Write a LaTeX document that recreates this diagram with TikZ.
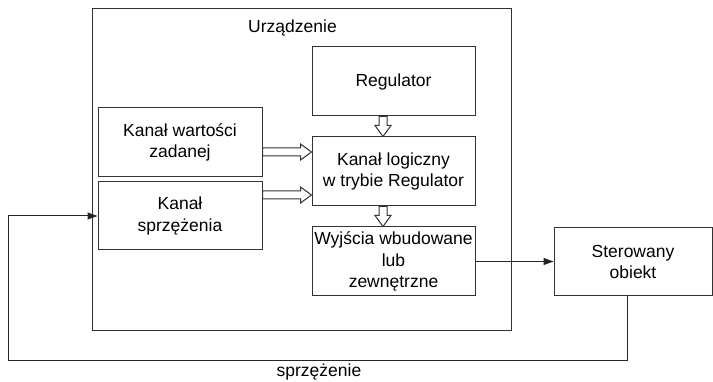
\documentclass[tikz,border=0pt]{standalone}
\usepackage{fontspec}
\setmainfont{Liberation Sans}
\usetikzlibrary{calc,arrows.meta}
\begin{document}
\begin{tikzpicture}[x=1pt,y=-1pt,
    txt/.style={inner sep=0pt,align=center,font=\fontsize{17.5}{21.5}\selectfont},
    box/.style={txt,draw=black!80,line width=1pt},
    conn/.style={draw=black!85,line width=1pt,-{Triangle[length=10pt,width=7pt]}},
    hollow/.style={draw=black!80,line width=1pt,fill=white,
        to path={($(\tikztostart)!4pt!90:(\tikztotarget)$)
            -- ($(\tikztotarget)!11pt!(\tikztostart)!4pt!-90:(\tikztostart)$)
            -- ($(\tikztotarget)!11pt!(\tikztostart)!8pt!-90:(\tikztostart)$)
            -- (\tikztotarget)
            -- ($(\tikztotarget)!11pt!(\tikztostart)!8pt!90:(\tikztostart)$)
            -- ($(\tikztotarget)!11pt!(\tikztostart)!4pt!90:(\tikztostart)$)
            -- ($(\tikztostart)!4pt!-90:(\tikztotarget)$) -- cycle}}]
    \useasboundingbox (0,0) rectangle (713,382);
    % device frame
    \node[box,minimum width=419,minimum height=322] (dev) at (301.5,170) {};
    \node[txt] (devlbl) at (292.5,28) {Urządzenie};
    % blocks inside
    \node[box,minimum width=163,minimum height=69] (reg) at (393.5,81.5) {Regulator};
    \node[box,minimum width=164,minimum height=69] (zad) at (180,142.5) {Kanał wartości\\zadanej};
    \node[box,minimum width=164,minimum height=68] (spr) at (180,216) {Kanał\\sprzężenia};
    \node[box,minimum width=163,minimum height=69] (log) at (393.5,171.5) {Kanał logiczny\\w trybie Regulator};
    \node[box,minimum width=163,minimum height=69] (wyj) at (393.5,261.5) {Wyjścia wbudowane\\lub\\zewnętrzne};
    % controlled object
    \node[box,minimum width=158,minimum height=68] (obj) at (633,262) {Sterowany\\obiekt};
    % hollow arrows
    \draw[hollow] ($(zad.east)+(0,9.5)$) to ($(zad.east -| log.west)+(0,9.5)$);
    \draw[hollow] ($(spr.east)+(0,-21)$) to ($(spr.east -| log.west)+(0,-21)$);
    \draw[hollow] ([xshift=-10.5pt]reg.south) to ([xshift=-10.5pt]log.north);
    \draw[hollow] ([xshift=-10.5pt]log.south) to ([xshift=-10.5pt]wyj.north);
    % signal lines
    \draw[conn] (wyj.east) -- (wyj.east -| obj.west);
    \coordinate (loop) at (8,361);
    \draw[conn] ([xshift=-6pt]obj.south) |- (loop) |- (spr.west);
    \node[txt,anchor=base] (fblbl) at (319,377) {sprzężenie};
\end{tikzpicture}
\end{document}
